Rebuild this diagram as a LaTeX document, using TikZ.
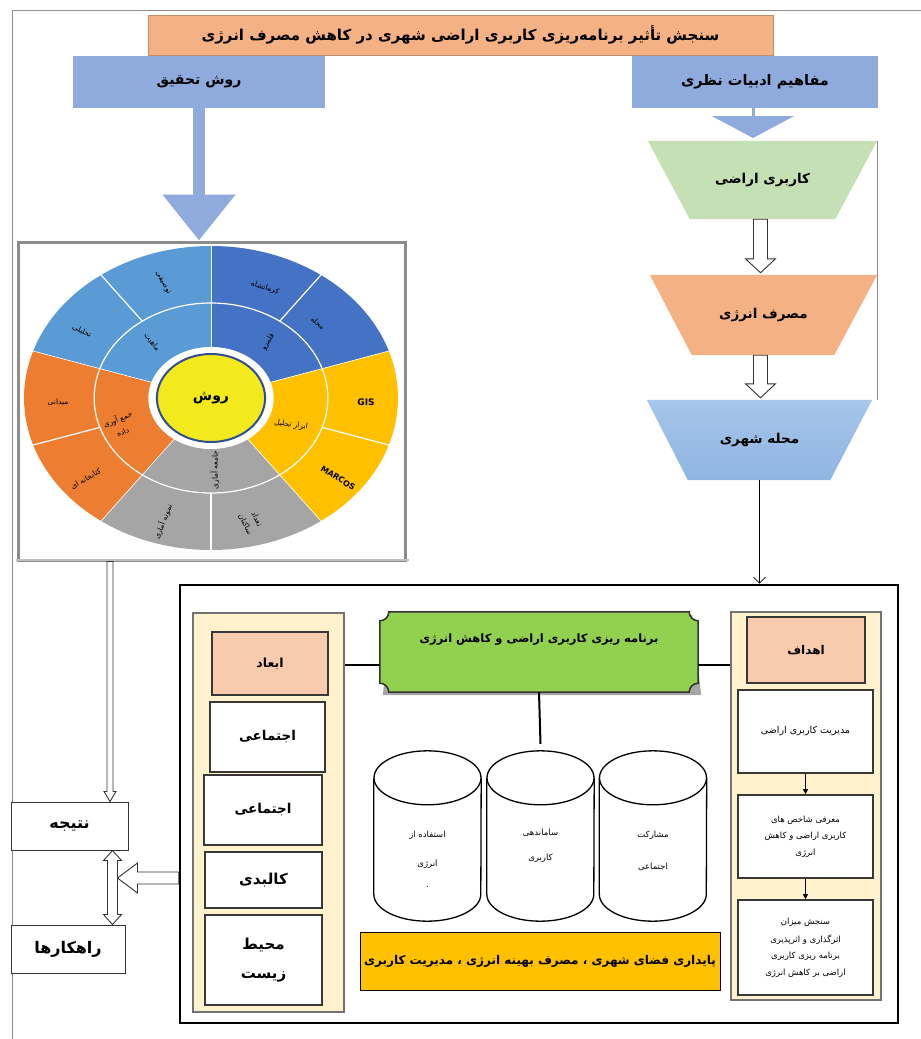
\documentclass[tikz,border=0pt]{standalone}
\usepackage{fontspec}
\newfontfamily\farsifont[Script=Arabic]{DejaVu Sans}
\TeXXeTstate=1
\newcommand{\RL}[1]{\beginR #1\endR}
\usetikzlibrary{calc,arrows.meta}
\pgfdeclarelayer{bg}
\pgfsetlayers{bg,main}
\definecolor{ttl}{HTML}{F4B183}
\definecolor{bluebx}{HTML}{8FAADC}
\definecolor{tgreen}{HTML}{C5E0B4}
\definecolor{torange}{HTML}{F4B183}
\definecolor{tblueA}{HTML}{A6C6EA}
\definecolor{tblueB}{HTML}{8FB5E3}
\definecolor{wdb}{HTML}{4472C4}
\definecolor{wlb}{HTML}{5B9BD5}
\definecolor{wor}{HTML}{ED7D31}
\definecolor{wgr}{HTML}{A5A5A5}
\definecolor{wye}{HTML}{FFC000}
\definecolor{cyel}{HTML}{F2EA1C}
\definecolor{navy}{HTML}{2F4F8F}
\definecolor{cream}{HTML}{FFF2CC}
\definecolor{salmon}{HTML}{F8CBAD}
\definecolor{plaque}{HTML}{92D050}
\definecolor{barye}{HTML}{FFC000}
\definecolor{frame}{HTML}{8C8C8C}
% hollow arrows (canvas coordinates, y up)
\newcommand{\hdown}[5]{\draw[hol] let \p1=#1, \p2=#2 in
 (\x1-#3,\y1) -- (\x1-#3,\y2+#5) -- (\x1-#4,\y2+#5) -- (\x1,\y2) -- (\x1+#4,\y2+#5) -- (\x1+#3,\y2+#5) -- (\x1+#3,\y1) -- cycle;}
\newcommand{\hleft}[5]{\draw[hol] let \p1=#1, \p2=#2 in
 (\x1,\y1+#3) -- (\x2+#5,\y1+#3) -- (\x2+#5,\y1+#4) -- (\x2,\y1) -- (\x2+#5,\y1-#4) -- (\x2+#5,\y1-#3) -- (\x1,\y1-#3) -- cycle;}
\newcommand{\hdouble}[5]{\draw[hol] let \p1=#1, \p2=#2 in
 (\x1,\y1) -- (\x1-#4,\y1-#5) -- (\x1-#3,\y1-#5) -- (\x1-#3,\y2+#5) -- (\x1-#4,\y2+#5) -- (\x2,\y2) -- (\x1+#4,\y2+#5) -- (\x1+#3,\y2+#5) -- (\x1+#3,\y1-#5) -- (\x1+#4,\y1-#5) -- cycle;}
\begin{document}
\begin{tikzpicture}[x=1pt,y=-1pt,
  fa/.style={font=\farsifont\fontsize{#1}{#1}\selectfont, inner sep=0pt, align=center},
  fab/.style={font=\farsifont\bfseries\fontsize{#1}{#1}\selectfont, inner sep=0pt, align=center},
  boxw/.style={draw=black!78, line width=1.6pt, fill=white},
  panel/.style={draw=black!55, line width=1.4pt, fill=cream},
  hol/.style={draw=black!80, line width=0.9pt, fill=white},
  wl/.style={fa=7.5, text=black},
  cylsh/.style={draw=black, line width=1.3pt, fill=white}]
\useasboundingbox (0,0) rectangle (921,1039);
% outer frame lines
\draw[frame, line width=1pt] (12,1039) -- (12,10) -- (921,10);

% ---- top boxes
\node[fill=ttl, draw=ttl!80!black, line width=0.4pt, minimum width=625pt, minimum height=40pt, fab=15] (title) at (460.5,35)
  {\RL{سنجش تأثیر برنامه‌ریزی کاربری اراضی شهری در کاهش مصرف انرژی}};
\node[fill=bluebx, minimum width=252pt, minimum height=52pt, fab=14] (tahqiq) at (199,82) {\RL{روش تحقیق}};
\node[fill=bluebx, minimum width=246pt, minimum height=52pt, fab=14.5] (nazari) at (755,82) {\RL{مفاهیم ادبیات نظری}};

% ---- wheel box
\node[draw=frame, line width=3pt, fill=white, minimum width=387pt, minimum height=318pt] (wbox) at (211.5,401) {};
\draw[black!25, line width=2pt] ([xshift=-1pt,yshift=2pt]wbox.south west) -- ([xshift=2pt,yshift=2pt]wbox.south east);

% thick blue arrow to wheel
\draw[bluebx, line width=12pt, -{Triangle[length=46pt,width=70pt]}] (tahqiq.south) -- (tahqiq.south |- wbox.north);
% blue arrow to first trapezoid
\coordinate (nz) at (753,108);
\draw[bluebx, line width=3pt, -{Triangle[length=22pt,width=82pt]}] (nz) -- (753,138);

% ---- wheel
\begin{scope}[shift={(211,398)}, yscale=-1, xscale=1.23]
 \foreach \a/\c in {18/wdb, 90/wlb, 162/wor, 234/wgr, 306/wye}
   \fill[\c] (0,0) -- (\a:152) arc[start angle=\a, end angle=\a+72, radius=152] -- cycle;
 \draw[white, line width=1.2pt] (0,0) circle[radius=95];
 \foreach \a in {54,126,198,270,342} \draw[white, line width=1.2pt] (\a:95) -- (\a:152);
 \foreach \a in {18,90,162,234,306} \draw[white, line width=0.6pt] (\a:50) -- (\a:152);
 \fill[white] (0,0) circle[radius=51];
 \draw[fill=cyel, draw=navy, line width=2pt] (0,0) circle[radius=44];
\end{scope}
\node[fab=14] (rav) at (211,398) {\RL{روش}};
% wheel labels
\node[wl, rotate=-18] (w1) at (265,288) {\RL{کرمانشاه}};
\node[wl, rotate=-40] (w2) at (318,323) {\RL{محله}};
\node[wl, rotate=58] (w3) at (268,342) {\RL{قلمرو}};
\node[wl, rotate=-60] (w4) at (163,283) {\RL{توصیفی}};
\node[wl, rotate=-27] (w5) at (82,331) {\RL{تحلیلی}};
\node[wl, rotate=-50] (w6) at (152,342) {\RL{ماهیت}};
\node[wl] (w7) at (58,402) {\RL{میدانی}};
\node[wl, rotate=30] (w8) at (86,479) {\RL{کتابخانه ای}};
\node[wl, rotate=22] (w9) at (120,425) {\RL{جمع آوری}\\[5pt]\RL{داده}};
\node[wl, rotate=90] (w10) at (215,470) {\RL{جامعه آماری}};
\node[wl, rotate=68] (w11) at (163,522) {\RL{نمونه آماری}};
\node[wl, rotate=-65] (w12) at (251,522) {\RL{تعداد}\\[5pt]\RL{ساکنان}};
\node[font=\farsifont\bfseries\fontsize{9}{9}\selectfont, inner sep=0pt] (w13) at (366,402) {GIS};
\node[font=\farsifont\bfseries\fontsize{8}{8}\selectfont, inner sep=0pt, rotate=-32] (w14) at (338,478) {MARCOS};
\node[wl, rotate=-8] (w15) at (291,425) {\RL{ابزار تحلیل}};

% ---- right column trapezoids
\begin{pgfonlayer}{bg}
\end{pgfonlayer}
\node[minimum width=229pt, minimum height=78pt, fab=13.5] (t1) at (762.5,180) {\RL{کاربری اراضی}};
\node[minimum width=227pt, minimum height=80pt, fab=13.5] (t2) at (763.5,315) {\RL{مصرف انرژی}};
\node[minimum width=225pt, minimum height=80pt, fab=13.5] (t3) at (759.5,440) {\RL{محله شهری}};
\begin{pgfonlayer}{bg}
 \fill[tgreen] (t1.north west) -- (t1.north east) -- ([xshift=-42pt]t1.south east) -- ([xshift=42pt]t1.south west) -- cycle;
 \fill[torange] (t2.north west) -- (t2.north east) -- ([xshift=-43pt]t2.south east) -- ([xshift=42pt]t2.south west) -- cycle;
 \shade[top color=tblueA, bottom color=tblueB] (t3.north west) -- (t3.north east) -- ([xshift=-42pt]t3.south east) -- ([xshift=41pt]t3.south west) -- cycle;
\end{pgfonlayer}
\draw[black!45, line width=1pt] (t1.north east) -- (t1.north east |- t3.north);
\hdown{([xshift=-2pt]t1.south)}{([xshift=-2pt,yshift=2pt]t2.north)}{7pt}{15pt}{14pt}
\hdown{([xshift=-3pt]t2.south)}{([xshift=-3pt,yshift=2pt]t3.north)}{7pt}{15pt}{14pt}

% ---- big frame
\node[draw=black, line width=2.6pt, minimum width=718pt, minimum height=438pt] (big) at (539,804) {};
\draw[black, line width=0.8pt, -{Straight Barb[length=6pt,width=12pt]}] (t3.south) -- (t3.south |- big.north);

% left panel
\node[panel, minimum width=151pt, minimum height=399pt] (lp) at (268.5,812.5) {};
\node[draw=black!78, line width=1.6pt, fill=salmon, minimum width=116pt, minimum height=63pt, fab=12.5] (abad) at (270,663.5) {\RL{ابعاد}};
\node[boxw, minimum width=115pt, minimum height=70pt, fab=13.5] (b1) at (267.5,737) {\RL{اجتماعی}};
\node[boxw, minimum width=118pt, minimum height=70pt, fab=13.5] (b2) at (263,810) {\RL{اجتماعی}};
\node[boxw, minimum width=117pt, minimum height=56pt, fab=15] (b3) at (263.5,880) {\RL{کالبدی}};
\node[boxw, minimum width=117pt, minimum height=90pt, fab=15] (b4) at (263.5,960) {\RL{محیط}\\[14pt]\RL{زیست}};

% right panel
\node[panel, minimum width=150pt, minimum height=388pt] (rp) at (806,806) {};
\node[draw=black!78, line width=1.6pt, fill=salmon, minimum width=118pt, minimum height=66pt, fab=12] (r0) at (806,650) {\RL{اهداف}};
\node[boxw, minimum width=135pt, minimum height=83pt, fa=9.5] (r1) at (805.5,731.5) {\RL{مدیریت کاربری اراضی}};
\node[boxw, minimum width=135pt, minimum height=83pt, fa=8.5] (r2) at (805.5,836.5) {\RL{معرفی شاخص های}\\[7pt]\RL{کاربری اراضی و کاهش}\\[7pt]\RL{انرژی}};
\node[boxw, minimum width=135pt, minimum height=95pt, fa=8.5] (r3) at (805.5,947.5) {\RL{سنجش میزان}\\[7pt]\RL{اثرگذاری و اثرپذیری}\\[7pt]\RL{برنامه ریزی کاربری}\\[7pt]\RL{اراضی بر کاهش انرژی}};
\draw[black, line width=1pt, -{Triangle[length=5pt,width=5pt]}] (r1.south) -- (r2.north);
\draw[black, line width=1pt, -{Triangle[length=5pt,width=5pt]}] (r2.south) -- (r3.north);

% green plaque
\node[minimum width=318pt, minimum height=80pt] (green) at (539,652) {};
\fill[black!35] ($(green.north west)+(12,3)$) -- ($(green.north east)+(-6,3)$) -- ($(green.south east)+(3,3)$) -- ($(green.south west)+(3,3)$) -- cycle;
\draw[draw=black!80, line width=1.5pt, fill=plaque]
  ($(green.north west)+(9,0)$) -- ($(green.north east)+(-9,0)$) arc[start angle=180, end angle=90, radius=9]
  -- ($(green.south east)+(0,-9)$) arc[start angle=270, end angle=180, radius=9]
  -- ($(green.south west)+(9,0)$) arc[start angle=0, end angle=-90, radius=9]
  -- ($(green.north west)+(0,9)$) arc[start angle=90, end angle=0, radius=9] -- cycle;
\node[fab=11.5] (greenlbl) at ($(green.center)+(0,-12)$) {\RL{برنامه ریزی کاربری اراضی و کاهش انرژی}};
\draw[black, line width=2pt] ($(green.west)+(0,13)$) -- ($(lp.east |- green.west)+(0,13)$);
\draw[black, line width=2pt] ($(green.east)+(0,13)$) -- ($(rp.west |- green.east)+(0,13)$);

% cylinders
\foreach \n/\cx in {c1/427.5, c2/540.5, c3/653}{
  \node[minimum width=107pt, minimum height=170pt] (\n) at (\cx,836) {};
  \draw[cylsh] ($(\n.north west)+(0,27)$) -- ($(\n.south west)+(0,-27)$)
     arc[start angle=180, end angle=0, x radius=53.5, y radius=27] -- ($(\n.north east)+(0,27)$);
  \draw[cylsh] ($(\n.north)+(0,27)$) ellipse[x radius=53.5, y radius=27];
}
\draw[black, line width=2pt] (green.south) -- ($(c2.north)+(0,-7)$);
\node[fa=8.5] (c1t) at ($(c1.center)+(0,23)$) {\RL{استفاده از}\\[20pt]\RL{انرژی}\\[12pt].};
\node[fa=8.5] (c2t) at ($(c2.center)+(0,10)$) {\RL{ساماندهی}\\[16pt]\RL{کاربری}};
\node[fa=8.5] (c3t) at ($(c3.center)+(0,15)$) {\RL{مشارکت}\\[22pt]\RL{اجتماعی}};

% yellow bar
\node[draw=black, line width=1pt, fill=barye, minimum width=360pt, minimum height=58pt, fab=12] (bar) at (540,961)
  {\RL{پایداری فضای شهری ، مصرف بهینه انرژی ، مدیریت کاربری}};

% ---- left result boxes
\node[draw=black!80, line width=1pt, fill=white, minimum width=117pt, minimum height=48pt, fab=16] (natije) at (69.5,826) {\RL{نتیجه}};
\node[draw=black!80, line width=1pt, fill=white, minimum width=114pt, minimum height=48pt, fab=16] (rahkar) at (68,949) {\RL{راهکارها}};
\coordinate (wa) at ([xshift=-101.5pt]wbox.south);
\hdown{(wa)}{(wa |- natije.north)}{3pt}{6pt}{10pt}
\coordinate (da) at ([xshift=-16pt]natije.south east);
\hdouble{(da)}{(da |- rahkar.north)}{5pt}{9pt}{10pt}
\coordinate (la) at ($(big.west)+(0,74)$);
\coordinate (lb) at ($(la -| da)+(5,0)$);
\hleft{(la)}{(lb)}{6pt}{15pt}{20pt}
\end{tikzpicture}
\end{document}
